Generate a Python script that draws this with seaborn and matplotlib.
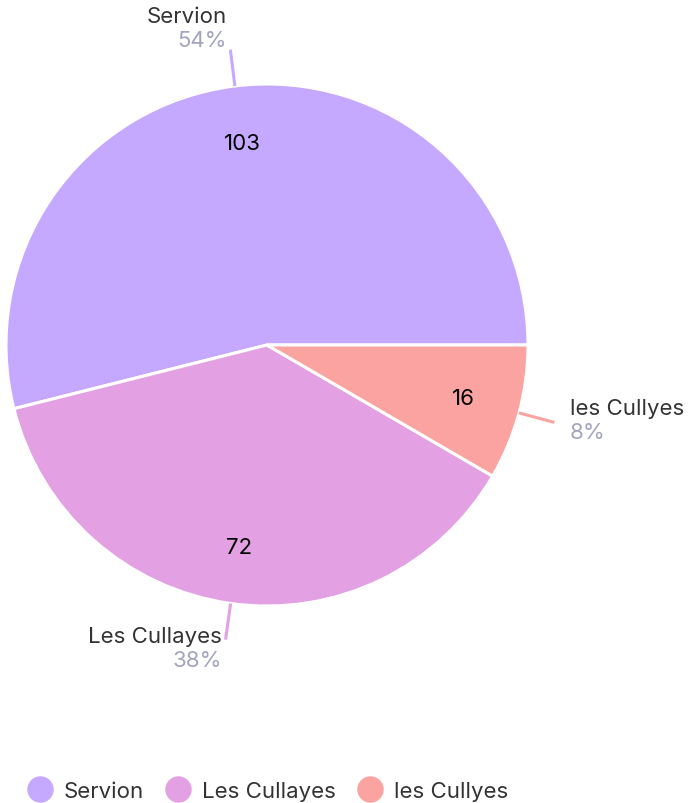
import numpy as np
import seaborn as sns
import matplotlib.pyplot as plt
from matplotlib.lines import Line2D

# data
labels = ["Servion", "Les Cullayes", "les Cullyes"]
counts = [103, 72, 16]
pct_labels = ["54%", "38%", "8%"]
colors = ["#c5a8ff", "#e3a0e3", "#fba3a0"]

sns.set_theme(style="white")
plt.rcParams['font.family'] = ['Inter', 'DejaVu Sans']

fig = plt.figure(figsize=(6.89, 8.04), dpi=100)
ax = fig.add_axes([0, 0, 1, 1])

wedges, _ = ax.pie(counts, colors=colors, startangle=0, counterclock=True,
                   radius=1.0, center=(0, 0),
                   wedgeprops=dict(edgecolor="white", linewidth=2.2))

for w, name, n, pct, col in zip(wedges, labels, counts, pct_labels, colors):
    mid = np.deg2rad((w.theta1 + w.theta2) / 2)
    c, s = np.cos(mid), np.sin(mid)
    # value inside
    ax.text(0.78 * c, 0.78 * s, str(n), ha="center", va="center",
            fontsize=16, color="black")
    # leader line
    ax.plot([1.0 * c, 1.14 * c], [1.0 * s, 1.14 * s], color=col, lw=2.2,
            solid_capstyle="butt")
    ex, ey = 1.14 * c, 1.14 * s
    ha = "left" if c > 0 else "right"
    dx = 0.06 if c > 0 else -0.015
    yc = ey + (15 * s + 6) / 261
    ax.text(ex + dx, yc + 0.01, name, ha=ha, va="bottom", fontsize=16,
            color="#333333")
    ax.text(ex + dx, yc - 0.005, pct, ha=ha, va="top", fontsize=16,
            color="#a3a3bf")

ax.set_xlim(-267 / 261, 422 / 261)
ax.set_ylim(-458 / 261, 346 / 261)
ax.set_aspect("equal")
ax.axis("off")

handles = [Line2D([], [], marker="o", linestyle="none", markersize=18,
                  markerfacecolor=c, markeredgecolor=c) for c in colors]
fig.legend(handles, labels, loc="center left", bbox_to_anchor=(0.0045, 0.015),
           ncol=3, frameon=False, fontsize=16, handlelength=1.5,
           handletextpad=0.33, columnspacing=0.78, labelcolor="#333333")

fig.savefig("out.png", dpi=100)
